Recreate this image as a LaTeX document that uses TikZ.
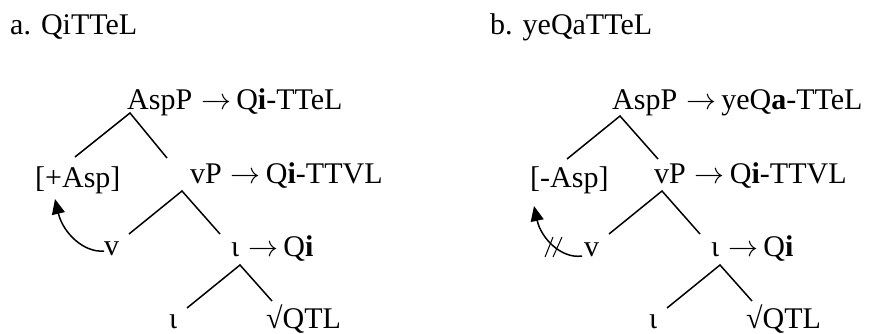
\documentclass[tikz,border=0pt]{standalone}
\usepackage{fix-cm}
\usepackage{fontspec}
\setmainfont{Liberation Serif}
\usetikzlibrary{arrows.meta}
\newcommand{\goesto}{\hspace{0.3em}$\rightarrow$\hspace{0.17em}}
\begin{document}
\begin{tikzpicture}[x=1pt,y=-1pt,
  lbl/.style={anchor=base west,inner sep=0pt,font=\fontsize{30}{36}\selectfont},
  branch/.style={line width=1.5pt},
  mv/.style={line width=1.5pt,-{Triangle[length=15pt,width=13pt]}},
  blocked/.style={line width=1pt}]
\useasboundingbox (0,0) rectangle (882,333);

% headings
\node[lbl] (ta) at (10,34) {a. QiTTeL};
\node[lbl] (tb) at (490,34) {b. yeQaTTeL};

% ---- tree a ----
\node[lbl] (aAsp)   at (127,109) {AspP\goesto Q\textbf{i}-TTeL};
\node[lbl] (aFeat)  at (35,187)  {[+Asp]};
\node[lbl] (avP)    at (190,183) {vP\goesto Q\textbf{i}-TTVL};
\node[lbl] (av)     at (104,255) {v};
\node[lbl] (aiota)  at (231,256) {ι\goesto Q\textbf{i}};
\node[lbl] (aiotaB) at (169,328) {ι};
\node[lbl] (aroot)  at (266,328) {√QTL};

\coordinate (a1) at (130,113); \coordinate (a1l) at (75,157);  \coordinate (a1r) at (167,158);
\coordinate (a2) at (182,191); \coordinate (a2l) at (129,234); \coordinate (a2r) at (220,234);
\coordinate (a3) at (240,265); \coordinate (a3l) at (187,308); \coordinate (a3r) at (272,301);
\draw[branch] (a1l) -- (a1) -- (a1r);
\draw[branch] (a2l) -- (a2) -- (a2r);
\draw[branch] (a3l) -- (a3) -- (a3r);

\coordinate (amvS) at (104,251); \coordinate (amvE) at (55,199);
\draw[mv] (amvS) .. controls (84,253) and (63,233) .. (amvE);

% ---- tree b ----
\node[lbl] (bAsp)   at (612,109) {AspP\goesto yeQ\textbf{a}-TTeL};
\node[lbl] (bFeat)  at (530,187) {[-Asp]};
\node[lbl] (bvP)    at (654,183) {vP\goesto Q\textbf{i}-TTVL};
\node[lbl] (bv)     at (584,256) {v};
\node[lbl] (biota)  at (711,256) {ι\goesto Q\textbf{i}};
\node[lbl] (biotaB) at (649,328) {ι};
\node[lbl] (broot)  at (746,328) {√QTL};

\coordinate (b1) at (620,116); \coordinate (b1l) at (567,159); \coordinate (b1r) at (658,159);
\coordinate (b2) at (662,191); \coordinate (b2l) at (609,234); \coordinate (b2r) at (700,234);
\coordinate (b3) at (720,265); \coordinate (b3l) at (667,308); \coordinate (b3r) at (752,301);
\draw[branch] (b1l) -- (b1) -- (b1r);
\draw[branch] (b2l) -- (b2) -- (b2r);
\draw[branch] (b3l) -- (b3) -- (b3r);

\coordinate (bmvS) at (582,256); \coordinate (bmvE) at (534,206);
\draw[mv] (bmvS) .. controls (561,259) and (541,238) .. (bmvE);

% blocked movement marks
\coordinate (s1a) at (545,257); \coordinate (s1b) at (553,237);
\coordinate (s2a) at (553,257); \coordinate (s2b) at (562,237);
\draw[blocked] (s1a) -- (s1b);
\draw[blocked] (s2a) -- (s2b);
\end{tikzpicture}
\end{document}
